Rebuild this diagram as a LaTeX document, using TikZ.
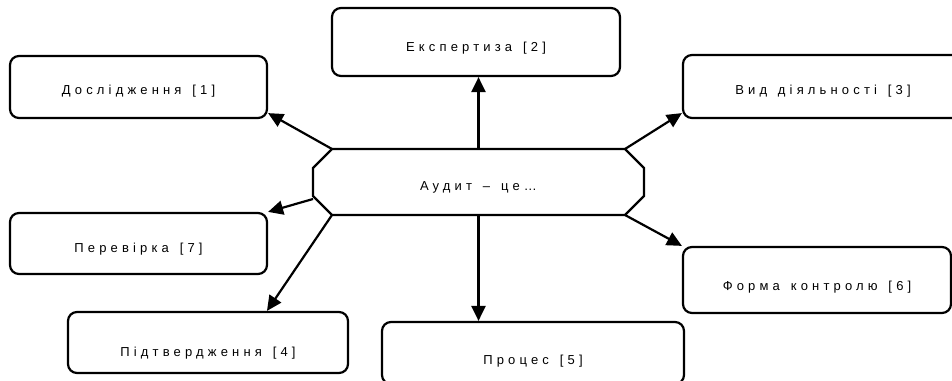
\documentclass[tikz,border=0pt]{standalone}
\usepackage{fontspec}
\setmainfont{Liberation Sans}[LetterSpace=32, WordSpace=1.4]
\usetikzlibrary{arrows.meta}

% box: name, x, y, width, height, text drop, text
\newcommand\mybox[7]{\node[box, minimum width=#4pt, minimum height=#5pt] (#1) at (#2,#3) {\raisebox{-#6pt}[\height][\depth]{#7}} ; }

\begin{document}
\begin{tikzpicture}[x=1pt, y=-1pt, line width=2.2pt,
    box/.style={draw, rounded corners=9pt, font=\fontsize{13}{15}\selectfont},
    arr/.style={-{Triangle[length=15pt,width=14pt]}}]
    \useasboundingbox (0,0) rectangle (952,380);

    % Centre octagon
    \node[outer sep=0pt, minimum width=331pt, minimum height=66pt, font=\fontsize{13}{15}\selectfont]
        (audit) at (478.5,182) {\raisebox{-5pt}[\height][\depth]{Аудит – це…}};
    \draw ([xshift=19pt]audit.north west) -- ([xshift=-19pt]audit.north east)
        -- ([yshift=-19pt]audit.north east) -- ([yshift=19pt]audit.south east)
        -- ([xshift=-19pt]audit.south east) -- ([xshift=19pt]audit.south west)
        -- ([yshift=19pt]audit.south west) -- ([yshift=-19pt]audit.north west) -- cycle;

    % Boxes
    \mybox{res}{138.5}{87}{257}{62}{4}{Дослідження [1]}
    \mybox{exp}{476}{42}{288}{68}{6}{Експертиза [2]}
    \mybox{vid}{823}{86.5}{280}{63}{5}{Вид діяльності [3]}
    \mybox{chk}{138.5}{243.5}{257}{61}{5.5}{Перевірка [7]}
    \mybox{form}{817}{280}{268}{66}{7}{Форма контролю [6]}
    \mybox{conf}{208}{342.5}{280}{61}{10.5}{Підтвердження [4]}
    \mybox{proc}{533}{353}{302}{62}{8}{Процес [5]}

    % Arrows
    \draw[arr] ([xshift=19pt]audit.north west) -- ([yshift=6pt]res.south east);
    \draw[arr] (audit.north) -- (audit.north |- exp.south);
    \draw[arr] ([xshift=-19pt]audit.north east) -- ([yshift=6pt]vid.south west);
    \draw[arr] ([yshift=-17pt]audit.west) -- (chk.north east);
    \draw[arr] ([xshift=19pt]audit.south west) -- ([xshift=59pt]conf.north);
    \draw[arr] (audit.south) -- (audit.south |- proc.north);
    \draw[arr] ([xshift=-19pt]audit.south east) -- (form.north west);
\end{tikzpicture}
\end{document}
